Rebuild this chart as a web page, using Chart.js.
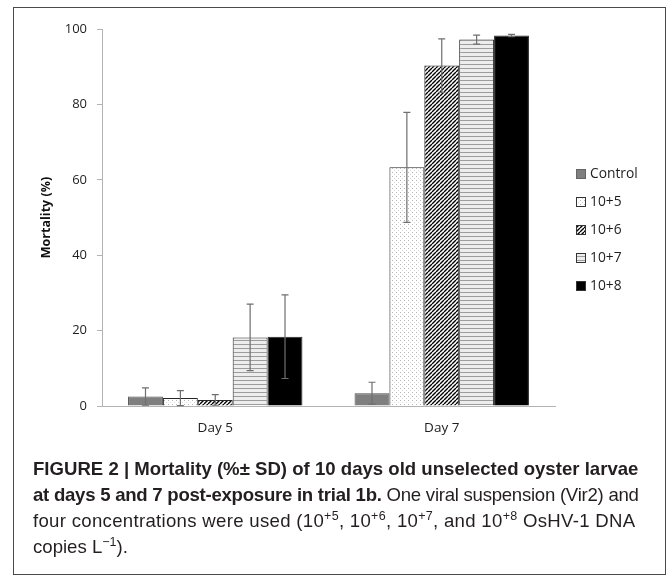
<!DOCTYPE html>
<html>
<head>
<meta charset="utf-8">
<script src="https://cdn.jsdelivr.net/npm/chart.js@4/dist/chart.umd.min.js"></script>
<style>
  body { margin: 0; background: #fff; width: 669px; height: 575px; overflow: hidden; position: relative; }
  .frame { position: absolute; left: 13px; top: 7px; width: 651px; height: 566px; border: 1.5px solid #4a4a4a; }
  #chart { position: absolute; left: 0; top: 0; }
  .caption {
    position: absolute; left: 33px; top: 456px;
    font-family: "Liberation Sans", Arial, sans-serif;
    font-size: 18.6px; line-height: 26px; color: #231f20; white-space: nowrap;
  }
  .caption sup { font-size: 12.5px; line-height: 0; vertical-align: 7px; }
  .l2 { letter-spacing: -0.26px; }
  .l3 { letter-spacing: 0.3px; }
</style>
</head>
<body>
<div class="frame"></div>
<canvas id="chart" width="669" height="460"></canvas>
<div class="caption">
  <b>FIGURE 2 | Mortality (%± SD) of 10 days old unselected oyster larvae</b><br>
  <span class="l2"><b>at days 5 and 7 post-exposure in trial 1b.</b> One viral suspension (Vir2) and</span><br>
  <span class="l3">four concentrations were used (10<sup>+5</sup>, 10<sup>+6</sup>, 10<sup>+7</sup>, and 10<sup>+8</sup> OsHV-1 DNA</span><br>
  copies L<sup>−1</sup>).
</div>
<script>
// mortality (%) and SD per treatment, for day 5 and day 7
const days = ['Day 5', 'Day 7'];
const treatments = ['Control', '10+5', '10+6', '10+7', '10+8'];
const control = [2.5, 3.4];
const controlSd = [2.3, 2.9];
const conc5 = [2.1, 63.3];
const conc5Sd = [2.0, 14.6];
const conc6 = [1.6, 90.3];
const conc6Sd = [1.4, 7.1];
const conc7 = [18.2, 97.2];
const conc7Sd = [8.8, 1.2];
const conc8 = [18.4, 98.3];
const conc8Sd = [11.1, 0.3];
const yTicks = [0, 20, 40, 60, 80, 100];

const FONT = '"Open Sans", "DejaVu Sans", sans-serif';

function makePattern(w, h, paint) {
    const c = document.createElement('canvas');
    c.width = w;
    c.height = h;
    const g = c.getContext('2d');
    paint(g, w, h);
    return g.createPattern(c, 'repeat');
}

// light dotted fill
const dots = makePattern(4, 4, function (g) {
    g.fillStyle = '#ffffff';
    g.fillRect(0, 0, 4, 4);
    g.fillStyle = '#b4b4b4';
    g.fillRect(0, 0, 1, 1);
    g.fillStyle = '#d6d6d6';
    g.fillRect(2, 2, 1, 1);
});

// dense diagonal hatch
const hatch = makePattern(4, 4, function (g) {
    g.fillStyle = '#ffffff';
    g.fillRect(0, 0, 4, 4);
    g.strokeStyle = '#000000';
    g.lineWidth = 1.4;
    g.beginPath();
    for (let k = -1; k <= 1; k++) {
        g.moveTo(k * 4, 4);
        g.lineTo(k * 4 + 4, 0);
    }
    g.stroke();
});

// horizontal grey stripes
const stripes = makePattern(4, 4, function (g) {
    g.fillStyle = '#ededed';
    g.fillRect(0, 0, 4, 4);
    g.fillStyle = '#9c9c9c';
    g.fillRect(0, 0, 4, 1);
});

const fills = ['#7f7f7f', dots, hatch, stripes, '#000000'];
const values = [control, conc5, conc6, conc7, conc8];
const sds = [controlSd, conc5Sd, conc6Sd, conc7Sd, conc8Sd];

const errorBars = {
    id: 'errorBars',
    afterDatasetsDraw(chart) {
        const ctx = chart.ctx;
        const y = chart.scales.y;
        ctx.save();
        ctx.strokeStyle = '#6f6f6f';
        ctx.lineWidth = 1.2;
        chart.data.datasets.forEach(function (ds, i) {
            chart.getDatasetMeta(i).data.forEach(function (bar, j) {
                const v = ds.data[j];
                const sd = ds.sd[j];
                const top = y.getPixelForValue(v + sd);
                const bot = y.getPixelForValue(Math.max(v - sd, 0));
                ctx.beginPath();
                ctx.moveTo(bar.x, top);
                ctx.lineTo(bar.x, bot);
                ctx.moveTo(bar.x - 3.5, top);
                ctx.lineTo(bar.x + 3.5, top);
                ctx.moveTo(bar.x - 3.5, bot);
                ctx.lineTo(bar.x + 3.5, bot);
                ctx.stroke();
            });
        });
        ctx.restore();
    }
};

// legend column to the right of the plot
const sideLegend = {
    id: 'sideLegend',
    afterDraw(chart) {
        const ctx = chart.ctx;
        const x0 = chart.chartArea.right + 21;
        ctx.save();
        ctx.font = '13.8px ' + FONT;
        ctx.textBaseline = 'middle';
        chart.data.datasets.forEach(function (ds, i) {
            const cy = 174 + i * 28;
            ctx.fillStyle = ds.backgroundColor;
            ctx.fillRect(x0, cy - 5, 10, 10);
            ctx.strokeStyle = i === 0 ? '#666666' : '#333333';
            ctx.lineWidth = 1;
            ctx.strokeRect(x0 + 0.5, cy - 4.5, 9, 9);
            ctx.fillStyle = '#1e1e1e';
            ctx.fillText(ds.label, x0 + 14, cy);
        });
        ctx.restore();
    }
};

new Chart(document.getElementById('chart'), {
    type: 'bar',
    data: {
        labels: days,
        datasets: treatments.map(function (name, i) {
            return {
                label: name,
                data: values[i],
                sd: sds[i],
                backgroundColor: fills[i],
                borderColor: i === 0 ? '#4d4d4d' : '#262626',
                borderWidth: 1,
                categoryPercentage: 0.77,
                barPercentage: 1.0
            };
        })
    },
    options: {
        responsive: false,
        animation: false,
        layout: { padding: { left: 30, right: 114, top: 29, bottom: 0 } },
        plugins: {
            legend: { display: false },
            tooltip: { enabled: false }
        },
        scales: {
            x: {
                grid: { display: false },
                border: { color: '#b3b3b3', width: 1 },
                ticks: { color: '#1e1e1e', font: { family: FONT, size: 13.5 }, padding: 6 },
                afterFit: function (s) { s.height = 54; }
            },
            y: {
                min: 0,
                max: 100,
                afterBuildTicks: function (s) { s.ticks = yTicks.map(function (v) { return { value: v }; }); },
                grid: { drawOnChartArea: false, drawTicks: true, tickLength: 5, color: '#b3b3b3' },
                border: { color: '#b3b3b3', width: 1 },
                ticks: { color: '#1e1e1e', font: { family: FONT, size: 13 }, padding: 10 },
                title: {
                    display: true,
                    text: 'Mortality (%)',
                    color: '#111111',
                    font: { family: FONT, size: 12.5, weight: 'bold' },
                    padding: { top: 9, bottom: 0 }
                },
                afterFit: function (s) { s.width = 72; }
            }
        }
    },
    plugins: [errorBars, sideLegend]
});
</script>
</body>
</html>
